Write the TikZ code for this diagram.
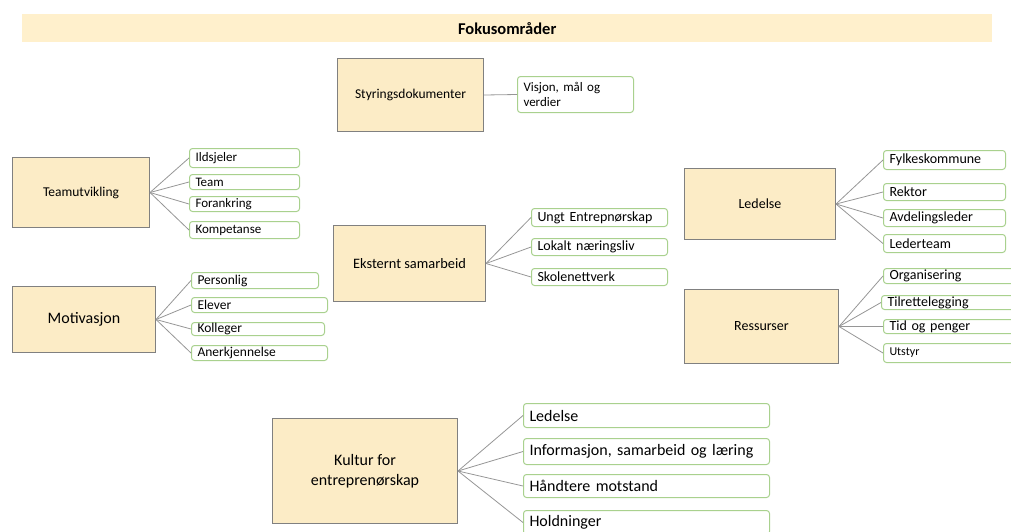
\documentclass[tikz,border=0pt]{standalone}
\usepackage{fontspec}
\setmainfont{Carlito}
\definecolor{parfill}{RGB}{252,236,198}
\definecolor{titlefill}{RGB}{255,240,204}
\definecolor{parline}{RGB}{128,128,128}
\definecolor{kidline}{RGB}{169,209,142}
\definecolor{conncol}{RGB}{150,150,150}
\tikzset{
  parent/.style={draw=parline, line width=1pt, fill=parfill, anchor=north west, align=center, inner sep=0pt},
  kid/.style={draw=kidline, line width=1pt, fill=white, rounded corners=3pt, anchor=north west, align=left, inner xsep=6pt, inner ysep=0pt},
  conn/.style={draw=conncol, line width=0.8pt},
}
\begin{document}
\begin{tikzpicture}[x=1pt,y=-1pt]
\useasboundingbox (0,0) rectangle (1011,531);
\clip (0,0) rectangle (1011,531);
% title
\node[fill=titlefill, minimum width=970pt, minimum height=28pt, inner sep=0pt, anchor=north west, font=\fontsize{16.5}{18}\selectfont\bfseries] (title) at (22,14) {Fokusområder};

% Teamutvikling
\node[parent, minimum width=137pt, minimum height=70pt, font=\fontsize{13.5}{15}\selectfont] (team) at (12,157) {Teamutvikling};
\node[kid, text width=98pt, minimum height=19pt, font=\fontsize{13}{15}\selectfont] (t1) at (189,148) {Ildsjeler};
\node[kid, text width=98pt, minimum height=15pt, font=\fontsize{13}{15}\selectfont] (t2) at (189,174) {Team};
\node[kid, text width=98pt, minimum height=15pt, font=\fontsize{13}{15}\selectfont] (t3) at (189,196) {Forankring};
\node[kid, text width=98pt, minimum height=17pt, font=\fontsize{13}{15}\selectfont] (t4) at (189,221) {Kompetanse};
\foreach \k in {t1,t2,t3,t4} \draw[conn] (team.east) -- (\k.west);

% Motivasjon
\node[parent, minimum width=143pt, minimum height=66pt, font=\fontsize{16}{18}\selectfont] (moti) at (12,286) {Motivasjon};
\node[kid, text width=115pt, minimum height=16pt, font=\fontsize{13.5}{15}\selectfont] (m1) at (191,272) {Personlig};
\node[kid, text width=124pt, minimum height=15pt, font=\fontsize{13.5}{15}\selectfont] (m2) at (191,297) {Elever};
\node[kid, text width=121pt, minimum height=13pt, font=\fontsize{13.5}{15}\selectfont] (m3) at (191,322) {Kolleger};
\node[kid, text width=124pt, minimum height=15pt, font=\fontsize{13.5}{15}\selectfont] (m4) at (191,345) {Anerkjennelse};
\foreach \k in {m1,m2,m3,m4} \draw[conn] (moti.east) -- (\k.west);

% Styringsdokumenter
\node[parent, minimum width=146pt, minimum height=73pt, font=\fontsize{13.5}{16}\selectfont] (styr) at (337,58) {Styringsdokumenter};
\node[kid, text width=104pt, minimum height=36pt, font=\fontsize{13}{15}\selectfont] (s1) at (517,76) {Visjon, mål og\\verdier};
\draw[conn] (styr.east) -- (s1.west);

% Eksternt samarbeid
\node[parent, minimum width=152pt, minimum height=76pt, font=\fontsize{14.4}{16}\selectfont] (ekst) at (333,225) {Eksternt samarbeid};
\node[kid, text width=124pt, minimum height=18pt, font=\fontsize{14}{16}\selectfont] (e1) at (531,208) {Ungt Entrepnørskap};
\node[kid, text width=124pt, minimum height=17pt, font=\fontsize{14}{16}\selectfont] (e2) at (531,238) {Lokalt næringsliv};
\node[kid, text width=124pt, minimum height=17pt, font=\fontsize{14}{16}\selectfont] (e3) at (531,268) {Skolenettverk};
\foreach \k in {e1,e2,e3} \draw[conn] (ekst.east) -- (\k.west);

% Ledelse
\node[parent, minimum width=151pt, minimum height=71pt, font=\fontsize{14}{16}\selectfont] (led) at (684,168) {Ledelse};
\node[kid, text width=110pt, minimum height=19pt, font=\fontsize{14}{16}\selectfont] (l1) at (883,150) {Fylkeskommune};
\node[kid, text width=110pt, minimum height=17pt, font=\fontsize{14}{16}\selectfont] (l2) at (883,183) {Rektor};
\node[kid, text width=110pt, minimum height=17pt, font=\fontsize{14}{16}\selectfont] (l3) at (883,209) {Avdelingsleder};
\node[kid, text width=110pt, minimum height=18pt, font=\fontsize{14}{16}\selectfont] (l4) at (883,234) {Lederteam};
\foreach \k in {l1,l2,l3,l4} \draw[conn] (led.east) -- (\k.west);

% Ressurser
\node[parent, minimum width=154pt, minimum height=74pt, font=\fontsize{14}{16}\selectfont] (ress) at (684,289) {Ressurser};
\node[kid, text width=127pt, minimum height=15pt, font=\fontsize{14}{16}\selectfont] (r1) at (883,268) {Organisering};
\node[kid, text width=129pt, minimum height=14pt, font=\fontsize{14}{16}\selectfont] (r2) at (881,295) {Tilrettelegging};
\node[kid, text width=127pt, minimum height=14pt, font=\fontsize{14}{16}\selectfont] (r3) at (883,319) {Tid og penger};
\node[kid, text width=127pt, minimum height=19pt, font=\fontsize{12}{14}\selectfont] (r4) at (883,343) {Utstyr};
\foreach \k in {r1,r2,r3,r4} \draw[conn] (ress.east) -- (\k.west);

% Kultur for entreprenørskap
\node[parent, minimum width=185pt, minimum height=105pt, font=\fontsize{16}{20}\selectfont] (kult) at (272,418) {Kultur for\\entreprenørskap};
\node[kid, text width=234pt, minimum height=24pt, font=\fontsize{16}{18}\selectfont] (k1) at (523,403) {Ledelse};
\node[kid, text width=234pt, minimum height=26pt, font=\fontsize{16}{18}\selectfont] (k2) at (523,438) {Informasjon, samarbeid og læring};
\node[kid, text width=234pt, minimum height=23pt, font=\fontsize{16}{18}\selectfont] (k3) at (523,474) {Håndtere motstand};
\node[kid, text width=234pt, minimum height=24pt, font=\fontsize{16}{18}\selectfont] (k4) at (523,510) {Holdninger};
\foreach \k in {k1,k2,k3,k4} \draw[conn] (kult.east) -- (\k.west);
\end{tikzpicture}
\end{document}
